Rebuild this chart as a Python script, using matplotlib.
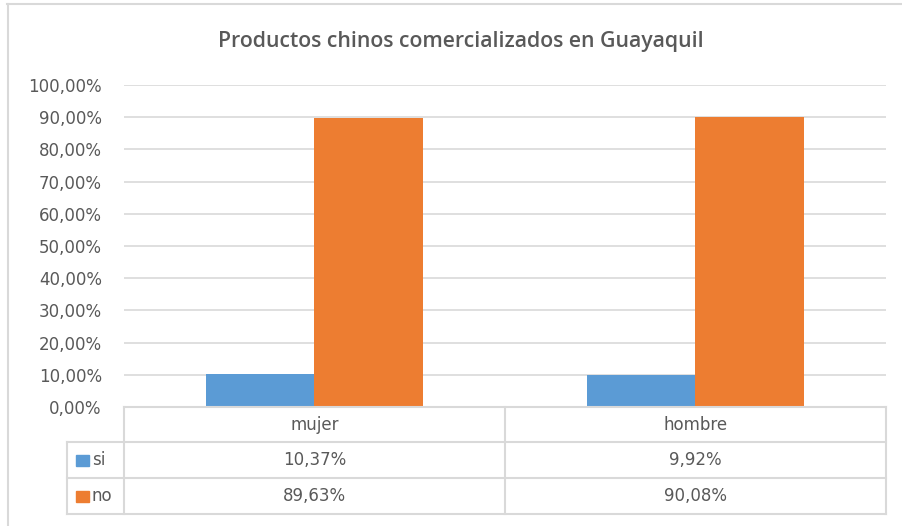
import matplotlib
matplotlib.use("Agg")
import matplotlib.pyplot as plt
from matplotlib.patches import Rectangle
import numpy as np

categories = ["mujer", "hombre"]
series_names = ["si", "no"]
si_values = [0.1037, 0.0992]
no_values = [0.8963, 0.9008]
si_labels = ["10,37%", "9,92%"]
no_labels = ["89,63%", "90,08%"]
yticks = [0.0, 0.1, 0.2, 0.3, 0.4, 0.5, 0.6, 0.7, 0.8, 0.9, 1.0]
ytick_labels = ["0,00%", "10,00%", "20,00%", "30,00%", "40,00%", "50,00%",
                "60,00%", "70,00%", "80,00%", "90,00%", "100,00%"]
title = "Productos chinos comercializados en Guayaquil"

BLUE = "#5B9BD5"
ORANGE = "#ED7D31"
GRID = "#D9D9D9"
TXT = "#595959"
FONT = "DejaVu Sans"
TFONT = "Open Sans"
FS = 12

W, H = 903, 526
fig = plt.figure(figsize=(W / 100, H / 100), dpi=100)
fig.patch.set_facecolor("white")

def fx(px):
    return px / W

def fy(py):
    return 1 - py / H

# outer chart border
fig.add_artist(plt.Line2D([fx(7), fx(903)], [fy(4), fy(4)], color=GRID, lw=1.5))
fig.add_artist(plt.Line2D([fx(7.5), fx(7.5)], [fy(4), fy(526)], color=GRID, lw=1.5))

# plot area
x0, x1 = 124, 886
ytop, ybot = 85, 407
ax = fig.add_axes([fx(x0), fy(ybot), fx(x1) - fx(x0), fy(ytop) - fy(ybot)])
ax.set_xlim(-0.5, len(categories) - 0.5)
ax.set_ylim(0, 1.0)
xpos = np.arange(len(categories))
bw = 0.286
ax.bar(xpos - bw / 2, si_values, width=bw, color=BLUE, zorder=3)
ax.bar(xpos + bw / 2, no_values, width=bw, color=ORANGE, zorder=3)
ax.set_yticks(yticks)
ax.set_yticklabels(ytick_labels, fontsize=FS, color=TXT, family=FONT)
ax.tick_params(axis="y", length=0, pad=16)
ax.set_xticks([])
ax.grid(axis="y", color=GRID, lw=1.2, zorder=0)
for s in ax.spines.values():
    s.set_visible(False)
ax.set_facecolor("none")

fig.text(fx(461), fy(41), title, ha="center", va="center", fontsize=15.3,
         color=TXT, family=TFONT, fontweight="semibold")

# data table
rows_y = [407, 442, 478, 514]
col_x = [67, 124, 505, 886]
lw = 1.5
def hline(y, xa, xb):
    fig.add_artist(plt.Line2D([fx(xa), fx(xb)], [fy(y), fy(y)], color=GRID, lw=lw))
def vline(x, ya, yb):
    fig.add_artist(plt.Line2D([fx(x), fx(x)], [fy(ya), fy(yb)], color=GRID, lw=lw))

hline(rows_y[0], col_x[1], col_x[3])
for y in rows_y[1:]:
    hline(y, col_x[0], col_x[3])
vline(col_x[0], rows_y[1], rows_y[3])
for x in col_x[1:]:
    vline(x, rows_y[0], rows_y[3])

col_centers = [(col_x[1] + col_x[2]) / 2, (col_x[2] + col_x[3]) / 2]
row_centers = [(rows_y[i] + rows_y[i + 1]) / 2 for i in range(3)]
for c, cat in zip(col_centers, categories):
    fig.text(fx(c), fy(row_centers[0]), cat, ha="center", va="center",
             fontsize=FS, color=TXT, family=FONT)
for c, lab in zip(col_centers, si_labels):
    fig.text(fx(c), fy(row_centers[1]), lab, ha="center", va="center",
             fontsize=FS, color=TXT, family=FONT)
for c, lab in zip(col_centers, no_labels):
    fig.text(fx(c), fy(row_centers[2]), lab, ha="center", va="center",
             fontsize=FS, color=TXT, family=FONT)

for rc, name, col in zip(row_centers[1:], series_names, [BLUE, ORANGE]):
    fig.add_artist(Rectangle((fx(76), fy(rc + 5.5)), fx(13), 11 / H,
                             transform=fig.transFigure, color=col))
    fig.text(fx(92), fy(rc), name, ha="left", va="center",
             fontsize=FS, color=TXT, family=FONT)

fig.savefig("out.png", dpi=100, facecolor="white")
